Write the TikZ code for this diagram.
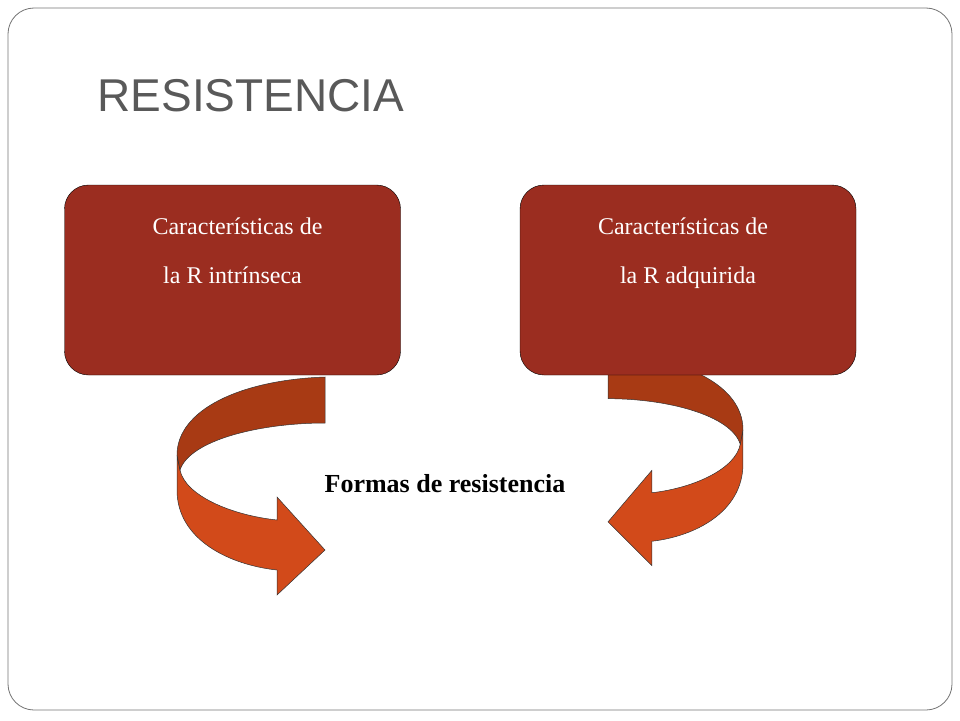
\documentclass[tikz,border=0pt]{standalone}
\usepackage{fontspec}
\setmainfont{Liberation Serif}
\newfontfamily\titlefont{Liberation Sans}
\definecolor{boxred}{HTML}{9B2D20}
\definecolor{darkarrow}{HTML}{A83A14}
\definecolor{lightarrow}{HTML}{D24A1A}
\definecolor{titlegrey}{HTML}{595959}
\tikzset{
  rbox/.style={draw=black, fill=boxred, rounded corners=24pt, minimum width=336pt,
    minimum height=190pt, text=white, align=center, font=\fontsize{24}{49}\selectfont},
  dark part/.style={draw=black!80, fill=darkarrow, line width=.5pt},
  light part/.style={draw=black!80, fill=lightarrow, line width=.5pt},
}
\newcommand{\uturn}{%
  \draw[light part] (-148,455) -- (-148,490) .. controls (-148,540) and (-95,565) .. (-48,570)
    -- (-48,595) -- (0,550) -- (-48,497) -- (-48,520)
    .. controls (-95,515) and (-140,495) .. (-145,470) -- cycle;
  \draw[dark part] (0,377) .. controls (-85,380) and (-148,410) .. (-148,455)
    -- (-145,470) .. controls (-135,440) and (-65,423) .. (0,423) -- cycle;
}
\begin{document}
\begin{tikzpicture}[x=1pt,y=-1pt]
  \useasboundingbox (0,0) rectangle (960,720);
  \draw[black!55, rounded corners=26pt, line width=.8pt] (8,8) rectangle (952,710);
  \node[anchor=west, text=titlegrey, font=\titlefont\fontsize{46}{50}\selectfont] (title) at (94,96) {RESISTENCIA};
  % arrows
  \begin{scope}[shift={(325,0)}]
    \uturn
  \end{scope}
  \begin{scope}[shift={(608,0)}, xscale=-0.912, yscale=0.97, yshift=12pt]
    \uturn
  \end{scope}
  \node[rbox] (intr) at (232.5,280) {\hspace*{10pt}Características de\\la R intrínseca\\[10pt]};
  \node[rbox] (adq) at (688,280) {\hspace*{-10pt}Características de\\la R adquirida\\[10pt]};
  \node[font=\bfseries\fontsize{26}{30}\selectfont] (formas) at (445,484) {Formas de resistencia};
\end{tikzpicture}
\end{document}
